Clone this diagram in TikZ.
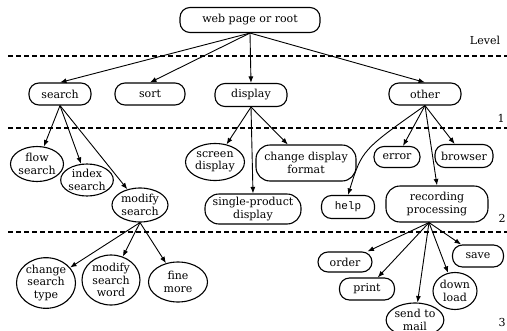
\documentclass[tikz,border=0pt]{standalone}
\usepackage{fontspec}
\setmainfont{DejaVu Serif}
\setmonofont{Liberation Mono}
\usetikzlibrary{arrows.meta,shapes.geometric}
\begin{document}
\begin{tikzpicture}[x=1pt,y=-1pt,
  every node/.style={font=\fontsize{11}{12.5}\selectfont, inner sep=0pt, align=center},
  pill/.style={draw, line width=1.1pt, rounded corners=10pt, fill=white},
  rbox/.style={draw, line width=1.1pt, rounded corners=14pt, fill=white},
  oval/.style={draw, line width=1.1pt, ellipse, fill=white},
  sz/.style 2 args={minimum width=#1pt, minimum height=#2pt},
  link/.style={line width=0.9pt, -{Latex[length=6.5pt,width=5pt]}},
  levelline/.style={line width=1.2pt, dash pattern=on 5pt off 3pt},
  lvl/.style={font=\fontsize{11}{12}\selectfont}]
\useasboundingbox (0,0) rectangle (507,330);

% level separators
\draw[levelline] (8,56) -- (507,56);
\draw[levelline] (8,128) -- (507,128);
\draw[levelline] (8,232) -- (507,232);

\node[lvl] (lvl0) at (485,40) {Level};
\node[lvl] (lvl1) at (501,118) {1};
\node[lvl] (lvl2) at (502,218) {2};
\node[lvl] (lvl3) at (502,322) {3};

% level 0
\node[pill, sz={140}{25}] (root) at (250,20) {web page or root};

% level 1
\node[pill, sz={62}{22}] (search) at (60,94) {search};
\node[pill, sz={70}{22}] (sort) at (150,94) {sort};
\node[pill, sz={72}{23}] (display) at (251,95) {display};
\node[pill, sz={72}{22}] (other) at (425,94) {other};

% level 2
\node[oval, sz={53}{35}] (flow) at (37,164) {flow\\search};
\node[oval, sz={47}{32}] (index) at (87,180) {index\\search};
\node[oval, sz={56}{34}] (modsearch) at (140,205) {modify\\search};
\node[oval, sz={59}{37}] (screen) at (215,162) {screen\\display};
\node[rbox, sz={100}{36}] (chgfmt) at (306,163) {change display\\format};
\node[rbox, sz={96}{30}] (single) at (253,209) {single-product\\display};
\node[pill, sz={46}{21}] (error) at (397,157) {error};
\node[pill, sz={58}{23}] (browser) at (464,156) {browser};
\node[pill, sz={53}{23}, font=\ttfamily\fontsize{11}{12}\selectfont] (help) at (348,207) {help};
\node[rbox, sz={102}{36}] (rec) at (437,204) {recording\\processing};

% level 3
\node[oval, sz={59}{50}] (chtype) at (46,283) {change\\search\\type};
\node[oval, sz={58}{50}] (modword) at (111,280) {modify\\search\\word};
\node[oval, sz={59}{40}] (fine) at (178,282) {fine\\more};
\node[pill, sz={54}{20}] (order) at (345,262) {order};
\node[pill, sz={55}{22}] (print) at (367,289) {print};
\node[oval, sz={50}{34}] (mail) at (415,320) {send to\\mail};
\node[oval, sz={44}{37}] (down) at (455,291) {down\\load};
\node[pill, sz={51}{22}] (save) at (478,256) {save};

% connectors
\draw[link] (root.south) -- (search.north);
\draw[link] (root.south) -- (sort.north);
\draw[link] (root.south) -- (display.north);
\draw[link] (root.south) -- (other.north);

\draw[link] (search.south) -- (flow);
\draw[link] (search.south) -- (index);
\draw[link] (search.south) -- (modsearch);

\draw[link] (display.south) -- (screen);
\draw[link] (display.south) -- (single.north);
\draw[link] (display.south) -- (chgfmt);

\draw[link] (other.south) .. controls (362,150) .. (help.north);
\draw[link] (other.south) -- (error);
\draw[link] (other.south) -- (rec.north);
\draw[link] (other.south) -- (browser);

\draw[link] (modsearch.south) -- (chtype);
\draw[link] (modsearch.south) -- (modword);
\draw[link] (modsearch.south) -- (fine);

\draw[link] ([xshift=-8pt]rec.south) -- (order);
\draw[link] ([xshift=-8pt]rec.south) -- (print);
\draw[link] ([xshift=-8pt]rec.south) -- (mail);
\draw[link] ([xshift=-8pt]rec.south) -- (down);
\draw[link] ([xshift=-8pt]rec.south) -- (save);
\end{tikzpicture}
\end{document}
